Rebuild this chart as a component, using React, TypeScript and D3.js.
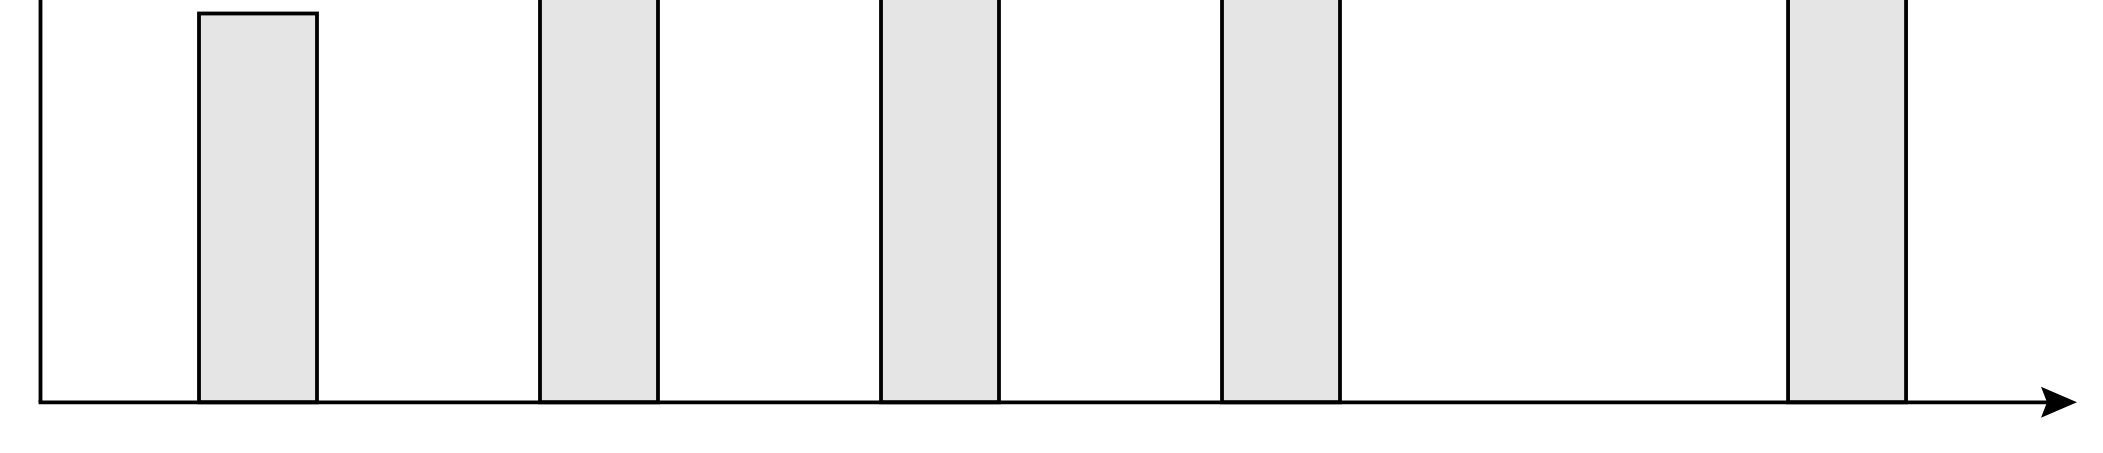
import React from "react";
import * as d3 from "d3";

const positions = [1, 2, 3, 4, 5.66];
const values = [1, 1.3, 1.3, 1.3, 1.3];

const W = 2103;
const H = 453;

export default function App() {
  const x = d3.scaleLinear().domain([1, 4]).range([258, 1281]);
  const y = d3.scaleLinear().domain([0, 1]).range([402.3, 13.5]);
  const bw = x(1.346) - x(1);
  const axisX = 40.5;
  const base = y(0);
  const tipX = 2077;
  const sw = 3.8;
  const arrow = d3.path();
  arrow.moveTo(tipX, base);
  arrow.lineTo(2041, base - 15.5);
  arrow.lineTo(2047, base);
  arrow.lineTo(2041, base + 15.5);
  arrow.closePath();
  return (
    <div style={{ position: "fixed", left: 0, top: 0, width: W, height: H, background: "#fff" }}>
      <svg width={W} height={H} style={{ display: "block" }}>
        {positions.map((p, i) => (
          <rect
            key={i}
            x={x(p) - bw / 2}
            y={y(values[i])}
            width={bw}
            height={base - y(values[i])}
            fill="#e5e5e5"
            stroke="#000"
            strokeWidth={sw}
          />
        ))}
        <line x1={axisX} y1={base} x2={axisX} y2={-10} stroke="#000" strokeWidth={sw} />
        <line x1={axisX - sw / 2} y1={base} x2={2050} y2={base} stroke="#000" strokeWidth={sw} />
        <path d={arrow.toString()} fill="#000" />
      </svg>
    </div>
  );
}
